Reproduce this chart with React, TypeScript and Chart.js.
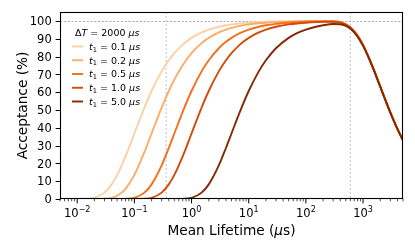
import React, { useEffect, useRef } from 'react';
import { Chart, registerables } from 'chart.js';

Chart.register(...registerables);

// Mean lifetime (µs) sample positions
const lifetimes = [0.01, 0.015, 0.02, 0.03, 0.04, 0.05, 0.07, 0.1, 0.15, 0.2, 0.3, 0.4, 0.5, 0.7,
  1, 1.5, 2, 3, 4, 5, 7, 10, 15, 20, 30, 50, 70,
  100, 150, 200, 300, 400, 500, 600, 700, 850, 1000, 1200, 1500, 2000, 2500, 3000, 4000, 5000];

const t1Values = [0.1, 0.2, 0.5, 1.0, 5.0];
const deltaT = 2000;

const accT01 = [0.00, 0.13, 0.67, 3.57, 8.21, 13.53, 23.97, 36.79, 51.34, 60.65, 71.65, 77.88, 81.87, 86.69,
  90.48, 93.55, 95.12, 96.72, 97.53, 98.02, 98.58, 99.00, 99.34, 99.50, 99.67, 99.80, 99.86,
  99.90, 99.93, 99.95, 99.84, 99.30, 98.15, 96.41, 94.25, 90.48, 86.46, 81.10, 73.64, 63.21, 55.07, 48.66, 39.35, 32.97];
const accT02 = [0.00, 0.00, 0.00, 0.13, 0.67, 1.83, 5.74, 13.53, 26.36, 36.79, 51.34, 60.65, 67.03, 75.15,
  81.87, 87.52, 90.48, 93.55, 95.12, 96.08, 97.18, 98.02, 98.68, 99.00, 99.34, 99.60, 99.71,
  99.80, 99.87, 99.90, 99.81, 99.28, 98.13, 96.40, 94.23, 90.47, 86.45, 81.09, 73.63, 63.20, 55.06, 48.65, 39.34, 32.96];
const accT05 = [0.00, 0.00, 0.00, 0.00, 0.00, 0.00, 0.08, 0.67, 3.57, 8.21, 18.89, 28.65, 36.79, 48.95,
  60.65, 71.65, 77.88, 84.65, 88.25, 90.48, 93.11, 95.12, 96.72, 97.53, 98.35, 99.00, 99.29,
  99.50, 99.67, 99.75, 99.70, 99.20, 98.07, 96.35, 94.19, 90.43, 86.42, 81.07, 73.61, 63.19, 55.05, 48.64, 39.34, 32.96];
const accT10 = [0.00, 0.00, 0.00, 0.00, 0.00, 0.00, 0.00, 0.00, 0.13, 0.67, 3.57, 8.21, 13.53, 23.97,
  36.79, 51.34, 60.65, 71.65, 77.88, 81.87, 86.69, 90.48, 93.55, 95.12, 96.72, 98.02, 98.58,
  99.00, 99.34, 99.50, 99.54, 99.08, 97.97, 96.26, 94.12, 90.37, 86.37, 81.03, 73.57, 63.16, 55.03, 48.63, 39.33, 32.95];
const accT50 = [0.00, 0.00, 0.00, 0.00, 0.00, 0.00, 0.00, 0.00, 0.00, 0.00, 0.00, 0.00, 0.00, 0.08,
  0.67, 3.57, 8.21, 18.89, 28.65, 36.79, 48.95, 60.65, 71.65, 77.88, 84.65, 90.48, 93.11,
  95.12, 96.72, 97.53, 98.22, 98.09, 97.17, 95.60, 93.55, 89.90, 85.97, 80.69, 73.31, 62.96, 54.87, 48.49, 39.22, 32.87];

const seriesValues = [accT01, accT02, accT05, accT10, accT50];
const lineColors = ['#fdd0a2', '#fdab66', '#f36f1a', '#d24a06', '#842904'];

const yTicks = [0, 10, 20, 30, 40, 50, 60, 70, 80, 90, 100];
const xDecades = [-2, -1, 0, 1, 2, 3];
const refLifetimes = [0.36, 600];
const refAcceptance = 100;

const FONT = '"DejaVu Sans", sans-serif';

type Run = { text: string; font: string; dy?: number };

function runsWidth(ctx: CanvasRenderingContext2D, runs: Run[]) {
  let w = 0;
  for (const r of runs) { ctx.font = r.font; w += ctx.measureText(r.text).width; }
  return w;
}
function drawRuns(ctx: CanvasRenderingContext2D, x: number, y: number, runs: Run[]) {
  let cx = x;
  ctx.textAlign = 'left';
  ctx.textBaseline = 'alphabetic';
  for (const r of runs) {
    ctx.font = r.font;
    ctx.fillText(r.text, cx, y + (r.dy || 0));
    cx += ctx.measureText(r.text).width;
  }
}

const decor = {
  id: 'decor',
  beforeDatasetsDraw(chart: any) {
    const { ctx, chartArea: a, scales } = chart;
    const xs = scales.x, ys = scales.y;
    ctx.save();
    ctx.lineWidth = 0.8;
    ctx.strokeStyle = '#9a9a9a';
    ctx.setLineDash([2.2, 1.6]);
    const yy = Math.round(ys.getPixelForValue(refAcceptance)) + 0.5;
    ctx.beginPath(); ctx.moveTo(a.left, yy); ctx.lineTo(a.right, yy); ctx.stroke();
    ctx.strokeStyle = 'rgba(195,195,195,0.85)';
    ctx.lineWidth = 1.2;
    ctx.setLineDash([2, 2]);
    for (const v of refLifetimes) {
      const xx = xs.getPixelForValue(v);
      ctx.beginPath(); ctx.moveTo(xx, a.top); ctx.lineTo(xx, a.bottom); ctx.stroke();
    }
    ctx.restore();
  },
  afterDatasetsDraw(chart: any) {
    const { ctx, chartArea: a, scales } = chart;
    const xs = scales.x, ys = scales.y;
    ctx.save();
    ctx.setLineDash([]);
    ctx.strokeStyle = '#000';
    ctx.fillStyle = '#000';
    // frame
    ctx.lineWidth = 1.1;
    const L = Math.round(a.left) + 0.5, R = Math.round(a.right) - 0.5;
    const T = Math.round(a.top) + 0.5, B = Math.round(a.bottom) - 0.5;
    ctx.strokeRect(L, T, R - L, B - T);
    // x ticks
    ctx.lineWidth = 1;
    for (const d of xDecades) {
      const px = xs.getPixelForValue(Math.pow(10, d));
      ctx.beginPath(); ctx.moveTo(px, B); ctx.lineTo(px, B + 4.9); ctx.stroke();
    }
    ctx.lineWidth = 0.7;
    for (let d = -3; d <= 3; d++) {
      for (let m = 2; m <= 9; m++) {
        const v = m * Math.pow(10, d);
        if (v < xs.min || v > xs.max) continue;
        const px = xs.getPixelForValue(v);
        ctx.beginPath(); ctx.moveTo(px, B); ctx.lineTo(px, B + 2.8); ctx.stroke();
      }
    }
    // y ticks
    ctx.lineWidth = 1;
    for (const v of yTicks) {
      const py = Math.round(ys.getPixelForValue(v)) + 0.5;
      ctx.beginPath(); ctx.moveTo(L - 4.9, py); ctx.lineTo(L, py); ctx.stroke();
    }
    // y tick labels
    ctx.font = `11.5px ${FONT}`;
    ctx.textAlign = 'right';
    ctx.textBaseline = 'alphabetic';
    for (const v of yTicks) {
      const py = ys.getPixelForValue(v);
      ctx.fillText(String(v), a.left - 8.3, py + 4.2);
    }
    // x tick labels
    for (const d of xDecades) {
      const px = xs.getPixelForValue(Math.pow(10, d));
      const exp = d < 0 ? '\u2212' + Math.abs(d) : String(d);
      const runs: Run[] = [
        { text: '10', font: `11.5px ${FONT}` },
        { text: exp, font: `8px ${FONT}`, dy: -5.5 },
      ];
      const w = runsWidth(ctx, runs);
      drawRuns(ctx, px - w / 2, 217, runs);
    }
    // axis titles
    const xt: Run[] = [
      { text: 'Mean Lifetime (', font: `13.7px ${FONT}` },
      { text: '\u03bc', font: `italic 13.7px ${FONT}` },
      { text: 's)', font: `13.7px ${FONT}` },
    ];
    const xw = runsWidth(ctx, xt);
    drawRuns(ctx, (a.left + a.right) / 2 - xw / 2, 234.5, xt);

    ctx.save();
    ctx.translate(26.5, (a.top + a.bottom) / 2);
    ctx.rotate(-Math.PI / 2);
    ctx.font = `13.7px ${FONT}`;
    ctx.textAlign = 'center';
    ctx.textBaseline = 'alphabetic';
    ctx.fillText('Acceptance (%)', 0, 0);
    ctx.restore();

    // legend
    const lf = 9.5;
    drawRuns(ctx, 75, 36, [
      { text: '\u0394', font: `${lf}px ${FONT}` },
      { text: 'T', font: `italic ${lf}px ${FONT}` },
      { text: ' = ' + deltaT + ' ', font: `${lf}px ${FONT}` },
      { text: '\u03bcs', font: `italic ${lf}px ${FONT}` },
    ]);
    t1Values.forEach((t, i) => {
      const ly = 46.5 + i * 13.75;
      ctx.strokeStyle = lineColors[i];
      ctx.lineWidth = 1.9;
      ctx.beginPath(); ctx.moveTo(72, ly); ctx.lineTo(83, ly); ctx.stroke();
      ctx.fillStyle = '#000';
      drawRuns(ctx, 89, ly + 3.4, [
        { text: 't', font: `italic ${lf}px ${FONT}` },
        { text: '1', font: `6.7px ${FONT}`, dy: 1.8 },
        { text: ' = ' + t.toFixed(1) + ' ', font: `${lf}px ${FONT}` },
        { text: '\u03bcs', font: `italic ${lf}px ${FONT}` },
      ]);
    });
    ctx.restore();
  },
};

export default function App() {
  const ref = useRef<HTMLCanvasElement | null>(null);
  useEffect(() => {
    if (!ref.current) return;
    const chart = new Chart(ref.current, {
      type: 'line',
      data: {
        datasets: seriesValues.map((vals, i) => ({
          label: `t1 = ${t1Values[i].toFixed(1)} μs`,
          data: lifetimes.map((t, j) => ({ x: t, y: vals[j] })),
          borderColor: lineColors[i],
          backgroundColor: lineColors[i],
          borderWidth: 1.9,
          pointRadius: 0,
          fill: false,
          cubicInterpolationMode: 'monotone',
          order: seriesValues.length - 1 - i,
        })),
      },
      options: {
        responsive: false,
        animation: false,
        devicePixelRatio: 1,
        layout: { padding: { top: 12, right: 12, left: 0, bottom: 0 } },
        plugins: { legend: { display: false }, tooltip: { enabled: false } },
        scales: {
          x: {
            type: 'logarithmic', min: 0.005, max: 5000,
            ticks: { display: false }, grid: { display: false }, border: { display: false },
            afterFit: (s: any) => { s.height = 50; },
          },
          y: {
            type: 'linear', min: 0, max: 105,
            ticks: { display: false }, grid: { display: false }, border: { display: false },
            afterFit: (s: any) => { s.width = 60; },
          },
        },
      } as any,
      plugins: [decor],
    } as any);
    return () => chart.destroy();
  }, []);
  return (
    <div style={{ position: 'absolute', left: 0, top: 0, width: 415, height: 249, background: '#fff' }}>
      <canvas ref={ref} width={415} height={249} style={{ width: 415, height: 249, display: 'block' }} />
    </div>
  );
}
